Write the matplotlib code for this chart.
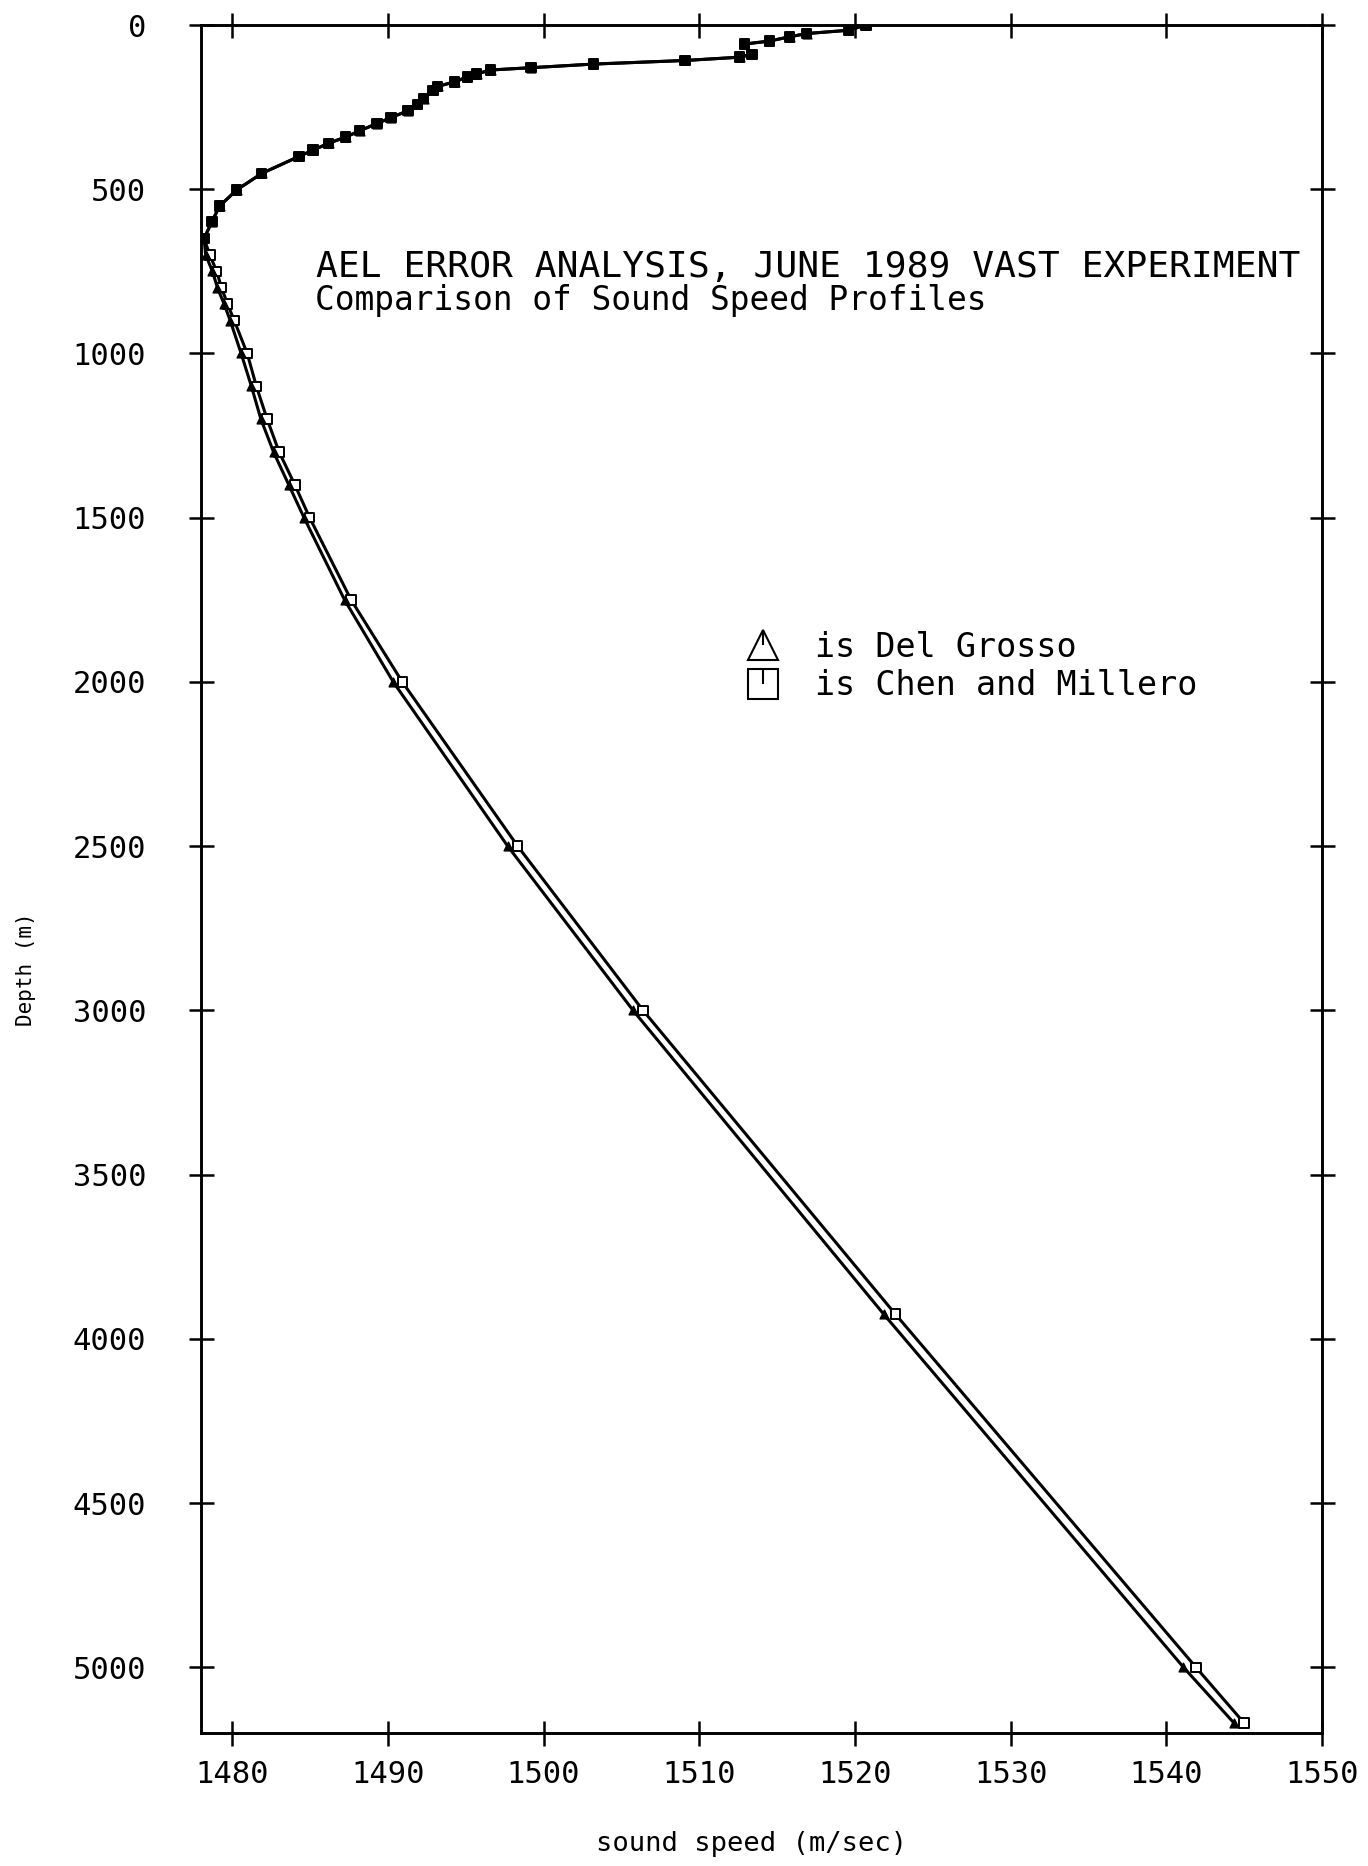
import matplotlib
matplotlib.use("Agg")
import matplotlib.pyplot as plt
from matplotlib.lines import Line2D
from matplotlib.path import Path
from matplotlib.legend_handler import HandlerTuple

plt.rcParams['font.family'] = ['DejaVu Sans Mono', 'DejaVu Sans']

# depths (m); both profiles overlap down to ~650 m
depth = [0, 16, 26, 36, 49, 58, 89, 98, 108, 119, 130, 137, 149, 158, 173,
         187, 199, 224, 242, 261, 282, 300, 322, 341, 360, 381, 400, 452,
         502, 551, 599, 650,
         700, 750, 800, 850, 900, 1000, 1100, 1200, 1300, 1400, 1500,
         1750, 2000, 2500, 3000, 3925, 5000, 5170]

upper = [1520.7, 1519.6, 1516.9, 1515.8, 1514.5, 1512.9, 1513.4, 1512.6,
         1509.1, 1503.2, 1499.2, 1496.6, 1495.7, 1495.1, 1494.3, 1493.2,
         1492.9, 1492.3, 1491.9, 1491.3, 1490.2, 1489.3, 1488.2, 1487.3,
         1486.2, 1485.2, 1484.3, 1481.9, 1480.3, 1479.2, 1478.7, 1478.2]

del_grosso = upper + [1478.30, 1478.74, 1479.06, 1479.49, 1479.88, 1480.58,
                      1481.24, 1481.85, 1482.66, 1483.64, 1484.62, 1487.22,
                      1490.35, 1497.70, 1505.75, 1521.85, 1541.10, 1544.35]
chen_millero = upper + [1478.57, 1479.01, 1479.32, 1479.71, 1480.14, 1480.97,
                        1481.56, 1482.25, 1483.02, 1484.03, 1484.98, 1487.64,
                        1490.93, 1498.34, 1506.39, 1522.60, 1541.90, 1545.00]

x_ticks = [1480, 1490, 1500, 1510, 1520, 1530, 1540, 1550]
y_ticks = [0, 500, 1000, 1500, 2000, 2500, 3000, 3500, 4000, 4500, 5000]

fig = plt.figure(figsize=(13.68, 18.66), dpi=100)
ax = fig.add_axes([0.1469, 0.0713, 0.8195, 0.9153])

ax.plot(chen_millero, depth, color='black', lw=2.2)
ax.plot(del_grosso, depth, color='black', lw=2.2)

# where both profiles sit on top of each other the plotter marks come out solid
fills = ['black' if a == b else 'white' for a, b in zip(del_grosso, chen_millero)]
ax.scatter(chen_millero, depth, marker='s', s=46, facecolors=fills,
           edgecolors='black', linewidths=1.4, zorder=3)
ax.scatter(del_grosso, depth, marker='^', s=40, c='black', zorder=4)

ax.set_xlim(1478, 1550)
ax.set_ylim(5200, 0)
ax.set_xticks(x_ticks)
ax.set_xticklabels([str(v) for v in x_ticks])
ax.set_yticks(y_ticks)
ax.set_yticklabels([str(v) for v in y_ticks])

for s in ax.spines.values():
    s.set_linewidth(2.1)
ax.tick_params(axis='both', direction='inout', length=18, width=1.8,
               top=True, right=True, labelsize=22)
ax.tick_params(axis='x', pad=10.5)
ax.tick_params(axis='y', pad=30.5)

ax.set_xlabel("sound speed (m/sec)", fontsize=19.5)
ax.xaxis.label.set_va('center')
ax.xaxis.set_label_coords(0.4915, -0.065)
ax.set_ylabel("Depth (m)", fontsize=15)
ax.yaxis.label.set_va('center')
ax.yaxis.set_label_coords(-0.156, 0.447)

fig.text(0.2310, 0.8516, "AEL ERROR ANALYSIS, JUNE 1989 VAST EXPERIMENT",
         fontsize=26.1, va='baseline', ha='left')
fig.text(0.2303, 0.8339, "Comparison of Sound Speed Profiles",
         fontsize=23.6, va='baseline', ha='left')

# legend keys: hollow symbol with a small stroke from the centre up
stroke = Path([(0, 0), (0, 1)], [Path.MOVETO, Path.LINETO])
tri = Line2D([], [], ls='none', marker='^', ms=22, mfc='none', mec='black', mew=1.5)
tri_in = Line2D([], [], ls='none', marker=stroke, ms=22, mfc='none', mec='black', mew=1.5)
sq = Line2D([], [], ls='none', marker='s', ms=21, mfc='none', mec='black', mew=1.5)
sq_in = Line2D([], [], ls='none', marker=stroke, ms=21, mfc='none', mec='black', mew=1.5)
ax.legend([(tri, tri_in), (sq, sq_in)], ["is Del Grosso", "is Chen and Millero"],
          handler_map={tuple: HandlerTuple(ndivide=1)},
          loc='upper left', bbox_to_anchor=(0.5455, 0.6620),
          bbox_transform=fig.transFigure, frameon=False, borderpad=0,
          borderaxespad=0, handlelength=1.0, handletextpad=1.06,
          labelspacing=0.17, prop={'size': 24})

fig.savefig("out.png", dpi=100, facecolor='white')
